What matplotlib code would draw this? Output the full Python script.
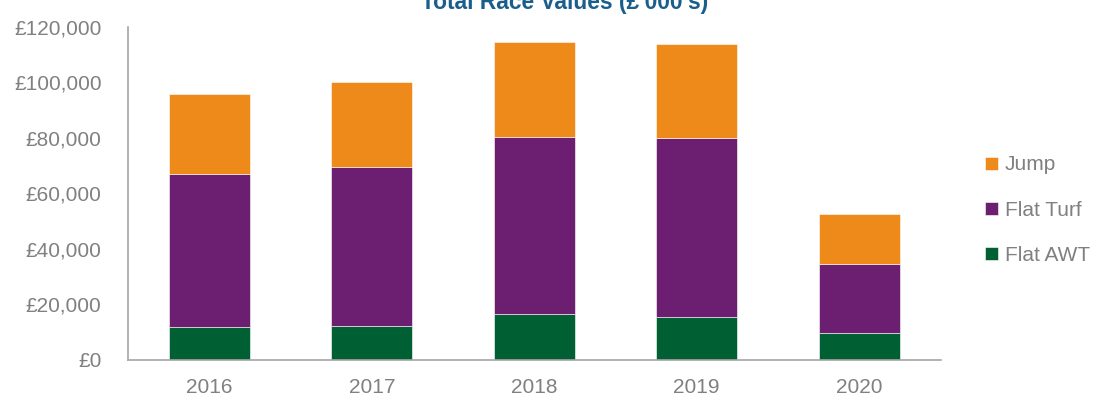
import numpy as np
import matplotlib
matplotlib.use('Agg')
import matplotlib.pyplot as plt
from matplotlib.ticker import FuncFormatter, MultipleLocator

plt.rcParams['font.family'] = ['Liberation Sans', 'DejaVu Sans']

years = ['2016', '2017', '2018', '2019', '2020']
flat_awt = [11600, 12200, 16300, 15200, 9500]
flat_turf = [55200, 57200, 63900, 64800, 25100]
jump = [28900, 30700, 34500, 34000, 17900]

col_awt = '#005F33'
col_turf = '#6C1F70'
col_jump = '#EE8A19'
grey = '#808080'

fig = plt.figure(figsize=(10.98, 4.04), dpi=100)
ax = fig.add_axes([128/1098, 1-359.5/404, (940.5-128)/1098, (359.5-27)/404])

x = np.arange(len(years))
awt = np.array(flat_awt)
turf = np.array(flat_turf)
jmp = np.array(jump)

b1 = ax.bar(x, awt, width=0.5, color=col_awt, edgecolor='#ffffff', linewidth=0.4, label='Flat AWT')
b2 = ax.bar(x, turf, width=0.5, bottom=awt, color=col_turf, edgecolor='#ffffff', linewidth=0.4, label='Flat Turf')
b3 = ax.bar(x, jmp, width=0.5, bottom=awt+turf, color=col_jump, edgecolor='#ffffff', linewidth=0.4, label='Jump')

ax.set_xlim(-0.5, len(years)-0.5)
ax.set_ylim(0, 120000)
ax.yaxis.set_major_locator(MultipleLocator(20000))
ax.yaxis.set_major_formatter(FuncFormatter(lambda v, p: '£{:,.0f}'.format(v)))
ax.set_xticks(x)
ax.set_xticklabels(years)

ax.tick_params(axis='y', length=0, pad=19, labelsize=15, labelcolor=grey)
ax.tick_params(axis='x', length=0, pad=13, labelsize=15, labelcolor=grey)

for s in ['top', 'right']:
    ax.spines[s].set_visible(False)
for s in ['left', 'bottom']:
    ax.spines[s].set_color('#A6A6A6')
    ax.spines[s].set_linewidth(1.2)

# title is partly cut off at the top edge, as in the original
fig.text(565/1098, 1-9/404, "Total Race Values (£'000's)", ha='center', va='baseline',
         fontsize=16.4, fontweight='bold', color='#1A5F8C')

ax.legend(handles=[b3, b2, b1], loc='center left', bbox_to_anchor=(985/1098, 1-210/404),
          bbox_transform=fig.transFigure, frameon=False, fontsize=15, labelcolor=grey,
          handlelength=0.6, handleheight=0.6, handletextpad=0.35, labelspacing=1.25,
          borderpad=0, borderaxespad=0)

plt.savefig('out.png', dpi=100)
